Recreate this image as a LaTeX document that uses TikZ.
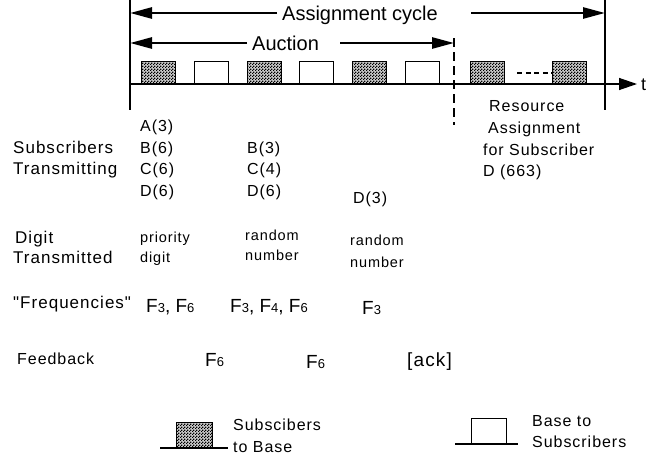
\documentclass[tikz,border=0pt]{standalone}
\usepackage{fontspec}
\setmainfont{Liberation Sans}
\newfontfamily\spc{Liberation Sans}[LetterSpace=6]
\usetikzlibrary{arrows.meta,patterns}
\pgfdeclarepatternformonly{finechk}{\pgfpointorigin}{\pgfpoint{3pt}{3pt}}{\pgfpoint{3pt}{3pt}}{%
  \pgfpathrectangle{\pgfpointorigin}{\pgfpoint{1.5pt}{1.5pt}}%
  \pgfpathrectangle{\pgfpoint{1.5pt}{1.5pt}}{\pgfpoint{1.5pt}{1.5pt}}%
  \pgfusepath{fill}}
\newcommand{\fsub}[1]{{\fontsize{13}{13}\selectfont #1}}
\begin{document}
\begin{tikzpicture}[x=1pt,y=-1pt,
  every node/.style={inner sep=0pt},
  txt/.style={anchor=base west,font=\spc\fontsize{17}{17}\selectfont},
  col/.style={anchor=base west,font=\spc\fontsize{16}{16}\selectfont},
  sml/.style={anchor=base west,font=\spc\fontsize{14.5}{14.5}\selectfont},
  big/.style={anchor=base west,font=\fontsize{20}{20}\selectfont},
  frq/.style={anchor=base west,font=\fontsize{19}{19}\selectfont},
  hatch/.style={preaction={fill=gray!40},pattern=finechk},
  hbox/.style={draw,line width=1.3pt,hatch,minimum width=34pt,minimum height=22pt,anchor=south west},
  obox/.style={draw,line width=1.3pt,fill=white,minimum width=34pt,minimum height=22pt,anchor=south west},
  thickarrow/.style={line width=2.6pt,-{Triangle[length=22pt,width=11pt]}},
  vline/.style={line width=1.3pt},
  tline/.style={line width=1.3pt,-{Triangle[length=18pt,width=12pt]}}
]
\useasboundingbox (0,0) rectangle (660,455);

% frame lines
\coordinate (L0) at (130,0); \coordinate (L1) at (130,110);
\coordinate (R0) at (605,0); \coordinate (R1) at (605,110);
\coordinate (D0) at (454,38); \coordinate (D1) at (454,125);
\draw[vline] (L0) -- (L1);
\draw[vline] (R0) -- (R1);
\draw[vline,dash pattern=on 9pt off 5pt] (D0) -- (D1);

% titles and arrows
\node[big] (asg) at (282,20) {Assignment cycle};
\node[big] (auc) at (252,50) {Auction};
\coordinate (a1) at (277,13); \coordinate (a1t) at (130,13);
\coordinate (a2) at (471,13); \coordinate (a2t) at (605,13);
\coordinate (u1) at (247,43); \coordinate (u1t) at (130,43);
\coordinate (u2) at (340,43); \coordinate (u2t) at (454,43);
\draw[thickarrow] (a1) -- (a1t);
\draw[thickarrow] (a2) -- (a2t);
\draw[thickarrow] (u1) -- (u1t);
\draw[thickarrow] (u2) -- (u2t);

% slots
\node[hbox] (s1) at (141,84) {};
\node[obox] (s2) at (194,84) {};
\node[hbox] (s3) at (246.5,84) {};
\node[obox] (s4) at (299,84) {};
\node[hbox] (s5) at (352,84) {};
\node[obox] (s6) at (405,84) {};
\node[hbox] (s7) at (470,84) {};
\node[hbox] (s8) at (552,84) {};
\draw[line width=2.5pt,dash pattern=on 5pt off 3.5pt] (s7.east |- 0,73) ++(12,0) coordinate (dd0) -- (s8.west |- 0,73);

% time axis
\coordinate (t0) at (130,84); \coordinate (t1) at (637,84);
\draw[tline] (t0) -- (t1);
\node[anchor=base west,font=\fontsize{18}{18}\selectfont] (t) at (641,90) {t};

% left labels
\node[txt] (sub1) at (13,153) {Subscribers};
\node[txt] (sub2) at (13,174) {Transmitting};
\node[txt] (dig1) at (15,243) {Digit};
\node[txt] (dig2) at (13,263) {Transmitted};
\node[txt] (frq) at (13,308) {"Frequencies"};
\node[col] (fb) at (17,364) {Feedback};

% column 1
\node[col] (c1a) at (140,131) {A(3)};
\node[col] (c1b) at (140,153) {B(6)};
\node[col] (c1c) at (140,174) {C(6)};
\node[col] (c1d) at (140,196) {D(6)};
\node[sml] (p1) at (140,242) {priority};
\node[sml] (p2) at (140,262) {digit};
\node[frq] (f1) at (146,312) {F\fsub{3}, F\fsub{6}};
\node[frq] (fb1) at (205,366) {F\fsub{6}};

% column 2
\node[col] (c2b) at (247,153) {B(3)};
\node[col] (c2c) at (247,174) {C(4)};
\node[col] (c2d) at (247,196) {D(6)};
\node[sml] (r1) at (245,240) {random};
\node[sml] (r2) at (245,260) {number};
\node[frq] (f2) at (230,312) {F\fsub{3}, F\fsub{4}, F\fsub{6}};
\node[frq] (fb2) at (306,368) {F\fsub{6}};

% column 3
\node[col] (c3d) at (353,203) {D(3)};
\node[sml] (q1) at (350,245) {random};
\node[sml] (q2) at (350,267) {number};
\node[frq] (f3) at (362,314) {F\fsub{3}};
\node[anchor=base west,font=\spc\fontsize{19}{19}\selectfont] (ack) at (407,366) {[ack]};

% resource assignment
\node[col] (ra1) at (489,111) {Resource};
\node[col] (ra2) at (488,133) {Assignment};
\node[col] (ra3) at (483,155) {for Subscriber};
\node[col] (ra4) at (483,176) {D (663)};

% legend
\coordinate (lg1a) at (160,448); \coordinate (lg1b) at (228,448);
\draw[vline] (lg1a) -- (lg1b);
\node[draw,line width=1.3pt,hatch,minimum width=36pt,minimum height=25pt,anchor=south west] (lgh) at (176,448) {};
\node[col] (lgt1) at (233,430) {Subscibers};
\node[col] (lgt2) at (233,452) {to Base};
\coordinate (lg2a) at (455,444); \coordinate (lg2b) at (518,444);
\draw[vline] (lg2a) -- (lg2b);
\node[draw,line width=1.3pt,fill=white,minimum width=35pt,minimum height=25pt,anchor=south west] (lgo) at (471,444) {};
\node[col] (lgt3) at (532,426) {Base to};
\node[col] (lgt4) at (532,447) {Subscribers};
\end{tikzpicture}
\end{document}
